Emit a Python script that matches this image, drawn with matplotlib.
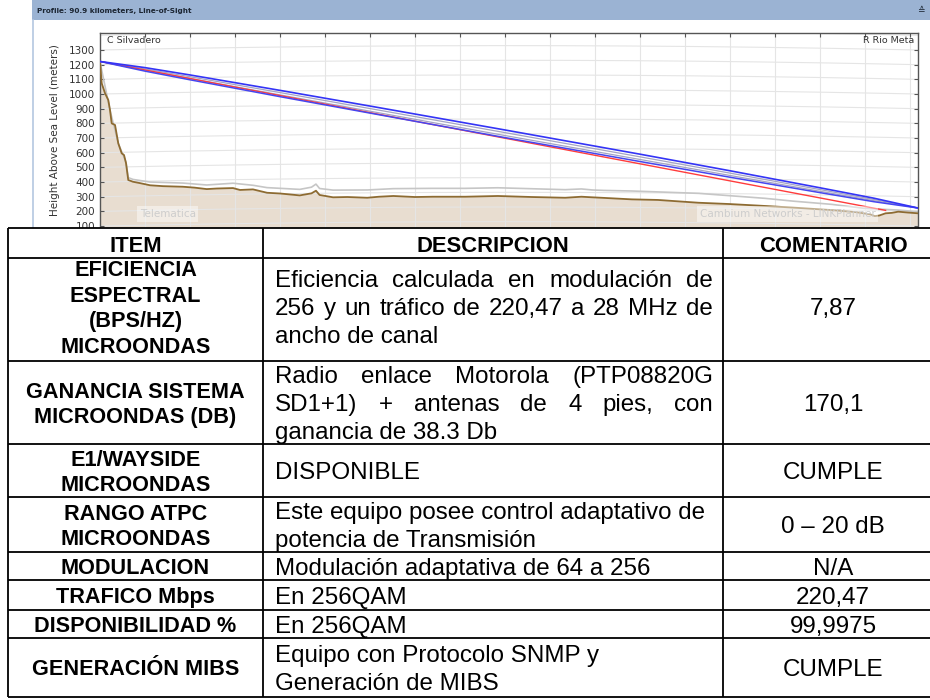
import numpy as np
import matplotlib.pyplot as plt
from matplotlib.patches import Rectangle

# ── Profile data (distance km, height m) ─────────────────────────────
terrain_km = [0, 0.19, 0.56, 0.92, 1.11, 1.3, 1.67, 2.03, 2.41, 2.67, 2.89,
              3.14, 3.67, 4.5, 5.56, 7.0, 9.22, 10.5, 11.86, 13.0, 14.78,
              15.56, 17.0, 18.56, 20.0, 22.2, 23.5, 24.0, 24.4, 25.9, 27.5,
              29.7, 31.0, 32.6, 35.0, 37.0, 40.6, 44.2, 48.0, 51.7, 53.5,
              54.7, 56.0, 59.1, 62.0, 66.5, 70.0, 73.9, 77.0, 81.3, 84.0,
              85.6, 86.1, 86.6, 87.3, 88.0, 88.7, 89.8, 90.9]
terrain_m = [1218, 1073, 1005, 959, 891, 800, 789, 664, 596, 584, 529,
             414, 402, 392, 378, 372, 368, 362, 352, 356, 359,
             346, 350, 327, 322, 309, 323, 341, 312, 296, 298,
             293, 300, 305, 298, 300, 300, 305, 298, 293, 300,
             296, 292, 282, 278, 259, 250, 237, 226, 209, 195,
             180, 168, 172, 187, 190, 198, 192, 187]

clutter_km = [0, 1.11, 2.03, 2.89, 3.14, 3.67, 5.56, 9.22, 11.86, 14.78,
              17.0, 18.56, 22.2, 23.5, 24.0, 24.4, 25.9, 29.7, 32.6, 37.0,
              40.6, 44.2, 51.7, 53.5, 54.7, 56.0, 59.1, 66.5, 73.9, 77.0,
              81.3, 84.9, 88.7, 90.9]
clutter_m = [1218, 891, 664, 535, 430, 418, 400, 393, 380, 392,
             378, 362, 350, 365, 386, 356, 345, 346, 355, 357,
             357, 361, 348, 353, 346, 343, 339, 323, 289, 270,
             248, 221, 209, 198]

path_km = [0, 5, 10, 20, 30, 45, 60, 70, 80, 86, 90.9]
fresnel_top = [1222, 1180, 1130, 1025, 918, 755, 590, 477, 361, 290, 223]
los_upper = [1222, 1171, 1118, 1010, 901, 737, 572, 461, 349, 281, 223]
los_lower = [1222, 1163, 1106, 994, 883, 717, 554, 445, 337, 273, 223]
fresnel_bot = [1222, 1156, 1097, 982, 870, 703, 540, 433, 328, 266, 223]
red_km = [0, 87.3]
red_m = [1222, 207]

link_km = 90.9
site_a = 'C Silvadero'
site_b = 'R Rio Meta'

# ── Table data ───────────────────────────────────────────────────────
headers = ['ITEM', 'DESCRIPCION', 'COMENTARIO']
items = [
    ['EFICIENCIA', 'ESPECTRAL', '(BPS/HZ)', 'MICROONDAS'],
    ['GANANCIA SISTEMA', 'MICROONDAS (DB)'],
    ['E1/WAYSIDE', 'MICROONDAS'],
    ['RANGO ATPC', 'MICROONDAS'],
    ['MODULACION'],
    ['TRAFICO Mbps'],
    ['DISPONIBILIDAD %'],
    ['GENERACIÓN MIBS'],
]
descriptions = [
    ['Eficiencia calculada en modulación de',
     '256 y un tráfico de 220,47 a 28 MHz de', 'ancho de canal'],
    ['Radio enlace Motorola (PTP08820G',
     'SD1+1) + antenas de 4 pies, con', 'ganancia de 38.3 Db'],
    ['DISPONIBLE'],
    ['Este equipo posee control adaptativo de',
     'potencia de Transmisión'],
    ['Modulación adaptativa de 64 a 256'],
    ['En 256QAM'],
    ['En 256QAM'],
    ['Equipo con Protocolo SNMP y', 'Generación de MIBS'],
]
comments = ['7,87', '170,1', 'CUMPLE', '0 – 20 dB', 'N/A', '220,47',
            '99,9975', 'CUMPLE']

# ── Layout (pixels) ──────────────────────────────────────────────────
W, H = 930, 700
row_edges = [228, 258, 361, 444, 497, 552, 580, 610, 638, 697]
col_edges = [8, 263, 723]
row_shift = [-3, 0, 0, 0, 0, 0, 0, 0]
justify_lines = [2, 2, 0, 0, 0, 0, 0, 0]
TFONT = 'Liberation Sans'
BODY = 17.4
ITEMSZ = 15.6

fig = plt.figure(figsize=(W / 100, H / 100), dpi=100)

# background panel + header bar
back = fig.add_axes([0, 0, 1, 1], zorder=0)
back.set_xlim(0, W)
back.set_ylim(H, 0)
back.axis('off')
back.add_patch(Rectangle((32, 0), W - 32, 20, color='#9bb3d3', lw=0))
back.plot([32.5, 32.5], [20, 230], color='#b4c7e0', lw=1.2)
back.text(37, 10.5, 'Profile: 90.9 kilometers, Line-of-Sight', fontsize=5.2,
          fontweight='bold', color='#1c2633', va='center')
back.text(921, 10.5, '≙', fontsize=6.5, color='#1c2633', ha='center',
          va='center')

# ── Profile chart ────────────────────────────────────────────────────
ax = fig.add_axes([100 / W, 1 - 240 / H, 818 / W, 207 / H], zorder=1)
ax.set_xlim(0, link_km)
ax.set_ylim(5, 1416)

# curved earth grid
xs = np.linspace(0, link_km, 200)
bulge = 30 * 4 * xs * (link_km - xs) / link_km ** 2
for h in range(0, 1500, 100):
    ax.plot(xs, h + bulge, color='#e5e5e5', lw=0.8, zorder=0.6)
for x in np.arange(5, link_km, 5):
    ax.axvline(x, color='#e5e5e5', lw=0.8, zorder=0.6)

ax.fill_between(terrain_km, terrain_m, 0, color='#e8ddd0', lw=0, zorder=0.5)
ax.plot(clutter_km, clutter_m, color='#c6c6c6', lw=1.2, zorder=2)
ax.plot(terrain_km, terrain_m, color='#8d6b32', lw=1.3, zorder=3)

ax.plot(path_km, los_upper, color='#a4a4c4', lw=0.9, zorder=4)
ax.plot(path_km, los_lower, color='#a4a4c4', lw=0.9, zorder=4)
ax.plot(red_km, red_m, color='#ff3c3c', lw=1.0, zorder=4)
ax.plot(path_km, fresnel_bot, color='#4646f0', lw=1.1, zorder=5)
ax.plot(path_km, fresnel_top, color='#3434f6', lw=1.2, zorder=5)

ax.text(0.008, 0.962, site_a, transform=ax.transAxes, fontsize=6.8,
        color='#333333', va='center')
ax.text(0.995, 0.962, site_b, transform=ax.transAxes, fontsize=6.8,
        color='#333333', va='center', ha='right')
wm = dict(boxstyle='square,pad=0.25', facecolor='white', alpha=0.45, lw=0)
ax.text(0.083, 0.126, 'Telematica', transform=ax.transAxes, fontsize=7.5,
        color='#cdcdcd', ha='center', va='center', bbox=wm, zorder=6)
ax.text(0.841, 0.126, 'Cambium Networks - LINKPlanner',
        transform=ax.transAxes, fontsize=7.5, color='#cdcdcd',
        ha='center', va='center', bbox=wm, zorder=6)

ax.set_yticks(range(100, 1400, 100))
ax.set_xticks(np.arange(5, link_km, 5))
ax.tick_params(axis='y', labelsize=7.5, labelcolor='#333333',
               direction='in', length=3, right=True, color='#555555')
ax.tick_params(axis='x', direction='in', length=3, top=True, bottom=False,
               labelbottom=False, color='#555555')
ax.set_ylabel('Height Above Sea Level (meters)', fontsize=7.5,
              color='#333333')
ax.yaxis.set_label_coords(-0.049, (240 - 130) / 207)
for side, sp in ax.spines.items():
    sp.set_color('#555555')
    sp.set_linewidth(1.0)
ax.spines['bottom'].set_visible(False)

# ── Table ────────────────────────────────────────────────────────────
front = fig.add_axes([0, 0, 1, 1], zorder=3)
front.set_xlim(0, W)
front.set_ylim(H, 0)
front.axis('off')
front.add_patch(Rectangle((0, row_edges[0]), W, H - row_edges[0],
                          color='white', lw=0))
for y in row_edges:
    front.plot([col_edges[0], W], [y, y], color='black', lw=1.3,
               solid_capstyle='butt')
for x in col_edges:
    front.plot([x, x], [row_edges[0], row_edges[-1]], color='black', lw=1.3,
               solid_capstyle='butt')

renderer = fig.canvas.get_renderer()


def cap_text(x, yc, s, size, bold=False, ha='center'):
    """Draw text with its capital letters centred on yc."""
    cap = size * 100 / 72 * 0.716
    return front.text(x, yc + cap / 2, s, fontsize=size, family=TFONT,
                      fontweight='bold' if bold else 'normal',
                      ha=ha, va='baseline', color='black')


def justified(x0, x1, yc, s, size):
    words = s.split()
    arts = [cap_text(0, yc, w, size, ha='left') for w in words]
    widths = [a.get_window_extent(renderer).width for a in arts]
    gap = (x1 - x0 - sum(widths)) / max(len(words) - 1, 1)
    x = x0
    for a, w in zip(arts, widths):
        a.set_x(x)
        x += w + gap


col3_x = 833
mid1 = (col_edges[0] + col_edges[1]) / 2
mid2 = (col_edges[1] + col_edges[2]) / 2
hy = (row_edges[0] + row_edges[1]) / 2 + 1
cap_text(mid1, hy, headers[0], 15.8, bold=True)
cap_text(mid2, hy, headers[1], 15.8, bold=True)
cap_text(col3_x, hy, headers[2], 15.8, bold=True)

for i in range(len(items)):
    yc = (row_edges[i + 1] + row_edges[i + 2]) / 2 + row_shift[i]
    lines = items[i]
    for k, s in enumerate(lines):
        cap_text(mid1, yc + (k - (len(lines) - 1) / 2) * 25.5, s, ITEMSZ,
                 bold=True)
    lines = descriptions[i]
    for k, s in enumerate(lines):
        y = yc + (k - (len(lines) - 1) / 2) * 28
        if k < justify_lines[i]:
            justified(275, 713, y, s, BODY)
        else:
            cap_text(275, y, s, BODY, ha='left')
    cap_text(col3_x, yc, comments[i], BODY)

fig.savefig('out.png', dpi=100)
